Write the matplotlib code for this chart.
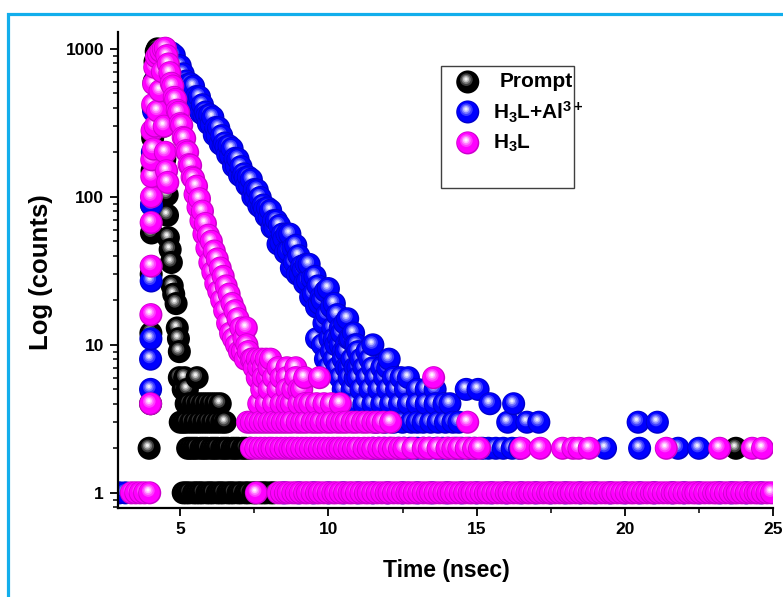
import numpy as np
import matplotlib
matplotlib.use("Agg")
import matplotlib.pyplot as plt
import matplotlib.colors as mcolors
from matplotlib.collections import PathCollection
from matplotlib.path import Path
from matplotlib.patches import Rectangle
from matplotlib.ticker import LogLocator, NullFormatter, MultipleLocator
from matplotlib.transforms import IdentityTransform

plt.rcParams['font.family'] = ['Liberation Sans', 'DejaVu Sans']
plt.rcParams['font.weight'] = 'bold'
plt.rcParams['mathtext.fontset'] = 'custom'
plt.rcParams['mathtext.rm'] = 'Liberation Sans:bold'
plt.rcParams['mathtext.it'] = 'Liberation Sans:bold'
plt.rcParams['mathtext.bf'] = 'Liberation Sans:bold'

# ---- decay data: time (ns) / counts ----
# Prompt (IRF)
prompt_t = [4.00, 4.01, 4.02, 4.03, 4.04, 4.05, 4.07, 4.09, 4.12, 4.15, 4.19, 4.23,
            4.28, 4.33, 4.38, 4.43, 4.48, 4.52, 4.56, 4.57, 4.60, 4.66, 4.70, 4.73,
            4.78, 4.86, 4.90, 4.94, 4.97]
prompt_c = [4, 12, 30, 57, 88, 150, 250, 400, 600, 820, 960, 1000,
            950, 760, 500, 300, 180, 130, 103, 75, 53, 44, 36, 25,
            22, 19, 13, 11, 9]
# low-count channels, grouped by count value
prompt_low = {
    6: [4.97, 5.15, 5.57],
    5: [5.10, 5.24],
    4: [5.20, 5.30, 5.45, 5.60, 5.75, 5.90, 6.05, 6.20, 6.35],
    3: [5.00, 5.10, 5.20, 5.35, 5.50, 5.65, 5.80, 5.95, 6.10, 6.25, 6.40, 6.52],
    2: [3.95, 5.25, 5.35, 5.45, 5.55, 5.70, 5.80, 5.90, 6.05, 6.15, 6.25, 6.40,
        6.50, 6.60, 6.75, 6.85, 6.95, 7.10, 7.20, 7.35, 23.75],
    1: [5.10, 5.20, 5.30, 5.45, 5.55, 5.65, 5.75, 5.90, 6.00, 6.10, 6.25, 6.35,
        6.45, 6.60, 6.70, 6.80, 6.95, 7.05, 7.20, 7.30, 7.45, 7.55, 7.70, 7.80,
        7.90, 8.05, 8.15],
}

# H3L + Al3+
al_t = [4.00, 4.00, 4.01, 4.02, 4.03, 4.06, 4.10, 4.15, 4.22, 4.30, 4.40, 4.50,
        4.60, 4.65, 4.70, 4.75, 4.80, 4.85, 4.90, 4.95, 5.00, 5.05, 5.10, 5.15,
        5.20, 5.25, 5.30, 5.35, 5.40, 5.45, 5.50, 5.55, 5.60, 5.65, 5.70, 5.75,
        5.80, 5.85, 5.90, 5.95, 6.00, 6.05, 6.10, 6.15, 6.20, 6.25, 6.30, 6.35,
        6.40, 6.45, 6.50, 6.55, 6.60, 6.65, 6.70, 6.75, 6.80, 6.85, 6.90, 6.95,
        7.00, 7.05, 7.10, 7.15, 7.20, 7.25, 7.30, 7.35, 7.40, 7.45, 7.50, 7.55,
        7.60, 7.65, 7.70, 7.75, 7.80, 7.85, 7.90, 7.95, 8.00, 8.05, 8.10, 8.15,
        8.20, 8.25, 8.30, 8.35, 8.40, 8.45, 8.50, 8.55, 8.60, 8.65, 8.70, 8.75,
        8.80, 8.85, 8.90, 8.95, 9.00, 9.05, 9.10, 9.15, 9.20, 9.25, 9.30, 9.35,
        9.40, 9.45, 9.50, 9.55, 9.60, 9.65, 9.70, 9.75, 9.80, 9.85, 9.90, 9.95,
        10.00, 10.05, 10.10, 10.15, 10.20, 10.25, 10.30, 10.35, 10.40, 10.45,
        10.50, 10.55, 10.60, 10.65, 10.70, 10.75, 10.80, 10.85, 10.90, 10.95, 11.00]
al_c = [5, 8, 11, 27, 88, 200, 380, 600, 800, 930, 980, 1000,
        928, 823, 940, 806, 904, 686, 773, 680, 766, 599, 678, 580,
        606, 573, 508, 580, 497, 558, 424, 476, 420, 473, 369, 419,
        358, 374, 353, 313, 358, 307, 345, 262, 294, 259, 292, 228,
        259, 221, 231, 218, 193, 221, 189, 212, 161, 182, 160, 180,
        140, 160, 136, 143, 135, 120, 136, 117, 131, 100, 112, 99,
        111, 87, 99, 84, 88, 83, 74, 84, 72, 81, 62, 69,
        61, 69, 48, 64, 49, 56, 52, 42, 56, 43, 56, 33,
        45, 36, 47, 30, 40, 30, 34, 32, 26, 35, 27, 35,
        21, 28, 22, 29, 18, 25, 19, 21, 20, 14, 23, 16,
        24, 11, 18, 13, 19, 10, 16, 11, 13, 12,
        9, 14, 10, 15, 7, 11, 8, 12, 6, 10, 7]
al_low = {
    11: [9.6, 10.2, 10.7],
    10: [9.8, 10.4, 10.9, 11.5],
    9: [10.1, 10.6, 11.0, 11.3],
    8: [9.9, 10.2, 10.5, 10.8, 11.1, 11.4, 12.05],
    7: [10.0, 10.3, 10.6, 10.9, 11.2, 11.5, 11.8, 12.0],
    6: [10.4, 10.7, 11.0, 11.3, 11.6, 11.9, 12.2, 12.45, 12.7],
    5: [10.5, 10.8, 11.1, 11.4, 11.7, 12.0, 12.3, 12.6, 13.0, 13.3, 13.6, 14.65, 15.05],
    4: [10.9, 11.2, 11.5, 11.8, 12.1, 12.4, 12.7, 13.0, 13.3, 13.6, 13.9, 14.1,
        15.45, 16.25],
    3: [11.6, 11.9, 12.2, 12.5, 12.8, 13.0, 13.2, 13.45, 13.7, 13.95, 14.2, 14.4,
        16.05, 16.7, 17.1, 20.45, 21.1],
    2: [11.5, 11.7, 11.9, 12.1, 12.35, 12.55, 12.75, 13.0, 13.2, 13.4, 13.65, 13.85,
        14.05, 14.3, 14.5, 14.75, 14.95, 15.2, 15.4, 15.65, 15.9, 16.2, 16.45,
        19.35, 20.5, 21.8, 22.5],
    1: [2.95, 3.15, 8.5, 9.0, 9.5, 10.0, 10.5, 11.0, 11.5, 12.0, 12.5, 13.0, 13.5,
        14.0, 14.5, 15.0, 15.5, 16.0, 16.5, 17.0, 17.5, 18.0, 18.5, 19.0, 19.5,
        20.0, 20.5, 21.0, 21.6, 22.0, 22.5, 23.2, 23.6, 24.1, 24.6],
}

# H3L
h3l_t = [4.00, 4.01, 4.02, 4.02, 4.03, 4.04, 4.04, 4.05, 4.07, 4.10, 4.10, 4.14,
         4.16, 4.20, 4.24, 4.27, 4.32, 4.35, 4.40, 4.43, 4.46, 4.50, 4.50, 4.54,
         4.55, 4.58,
         4.60, 4.65, 4.70, 4.75, 4.80, 4.85, 4.90, 4.95, 5.00, 5.05, 5.10,
         5.15, 5.20, 5.25, 5.30, 5.35, 5.40, 5.45, 5.50, 5.55, 5.60, 5.65, 5.70,
         5.75, 5.80, 5.85, 5.90, 5.95, 6.00, 6.05, 6.10, 6.15, 6.20, 6.25, 6.30,
         6.35, 6.40, 6.45, 6.50, 6.55, 6.60, 6.65, 6.70, 6.75, 6.80, 6.85, 6.90,
         6.95, 7.00, 7.05, 7.10, 7.15, 7.20, 7.23, 7.25, 7.30, 7.40]
h3l_c = [4, 16, 34, 67, 100, 137, 178, 280, 420, 580, 210, 750,
         300, 880, 380, 920, 520, 960, 700, 1000, 300, 1010, 200, 150,
         900, 125,
         790, 690, 585, 560, 470, 455, 385, 372, 312, 305, 252,
         248, 205, 200, 165, 163, 136, 133, 104, 118, 85, 97, 69,
         80, 56, 66, 45, 55, 36, 50, 31, 43, 26, 38, 23,
         33, 20, 29, 17, 25, 14, 22, 12, 19, 11, 17, 10,
         15, 9, 13, 9, 11, 8, 13, 10, 9, 8]
h3l_low = {
    8: [7.45, 7.6, 7.75, 7.9, 8.05],
    7: [7.5, 7.65, 7.8, 8.0, 8.3, 8.6, 8.9],
    6: [7.6, 7.8, 7.95, 8.15, 8.4, 8.6, 8.9, 9.2, 9.7, 13.55],
    5: [7.75, 8.0, 8.3, 8.6, 8.8, 9.0, 9.1],
    4: [7.65, 7.9, 8.15, 8.4, 8.6, 8.75, 9.0, 9.2, 9.37, 9.6, 9.85, 10.1, 10.4],
    3: [7.27, 7.4, 7.55, 7.7, 7.85, 8.0, 8.15, 8.3, 8.45, 8.6, 8.75, 8.95, 9.1,
        9.25, 9.45, 9.6, 9.75, 9.95, 10.1, 10.3, 10.45, 10.6, 10.8, 10.95, 11.15,
        11.3, 11.5, 11.65, 11.85, 12.1, 14.7],
    2: [7.4, 7.55, 7.7, 7.85, 8.0, 8.1, 8.25, 8.4, 8.55, 8.7, 8.8, 8.95, 9.1,
        9.25, 9.4, 9.55, 9.7, 9.85, 10.0, 10.15, 10.3, 10.4, 10.55, 10.7, 10.85,
        11.0, 11.2, 11.35, 11.5, 11.7, 11.85, 12.05, 12.2, 12.4, 12.55, 12.85,
        13.2, 13.4, 13.7, 14.0, 14.2, 14.4, 14.65, 14.9, 15.1, 16.5, 17.15, 17.9,
        18.25, 18.45, 18.8, 21.4, 23.2, 24.3, 24.65],
    1: [3.35, 3.5, 3.65, 3.8, 3.97, 7.57,
        8.30, 8.42, 8.55, 8.65, 8.80, 8.92, 9.05, 9.20, 9.30, 9.45, 9.60, 9.70,
        9.85, 10.00, 10.15, 10.25, 10.40, 10.55, 10.70, 10.80, 10.95, 11.10,
        11.25, 11.35, 11.50, 11.65, 11.80, 11.95, 12.05, 12.20, 12.35, 12.50,
        12.65, 12.75, 12.90, 13.05, 13.20, 13.35, 13.45, 13.60, 13.75, 13.90,
        14.05, 14.15, 14.30, 14.45, 14.60, 14.75, 14.85, 15.00, 15.15, 15.30,
        15.40, 15.55, 15.70, 15.85, 16.00, 16.10, 16.25, 16.40, 16.55, 16.70,
        16.80, 16.95, 17.10, 17.25, 17.40, 17.50, 17.65, 17.80, 17.95, 18.10,
        18.20, 18.35, 18.50, 18.65, 18.80, 18.90, 19.05, 19.20, 19.35, 19.50,
        19.60, 19.75, 19.90, 20.05, 20.20, 20.30, 20.45, 20.60, 20.75, 20.90,
        21.00, 21.15, 21.30, 21.45, 21.60, 21.70, 21.85, 22.00, 22.15, 22.30,
        22.40, 22.55, 22.70, 22.85, 23.00, 23.10, 23.25, 23.40, 23.55, 23.70,
        23.80, 23.95, 24.10, 24.25, 24.40, 24.50, 24.65, 24.80, 24.95],
}

series_labels = ['Prompt', r'H$_3$L+Al$^{3+}$', r'H$_3$L']
series_colors = ['#000000', '#0000ff', '#ff00ff']
highlight_colors = ['#f2f2f2', '#eeeeff', '#fff2ff']

SPHERE_R = 8.3  # marker radius, points


def gather(t, c, low):
    tt = list(t)
    cc = list(c)
    for level, times in low.items():
        tt += times
        cc += [level] * len(times)
    tt = np.array(tt, dtype=float)
    cc = np.array(cc, dtype=float)
    order = np.argsort(tt, kind='stable')
    return tt[order], cc[order]


def sphere_layers(color, light):
    base = np.array(mcolors.to_rgb(color))
    hi = np.array(mcolors.to_rgb(light))
    # radius, dx, dy (fractions of R), mix towards highlight (<0 darkens)
    layers = [(1.00, 0.00, 0.00, -0.2),
              (0.90, -0.03, 0.03, 0.0),
              (0.55, -0.12, 0.20, 0.25),
              (0.40, -0.14, 0.22, 0.50),
              (0.27, -0.15, 0.24, 0.78),
              (0.14, -0.15, 0.25, 1.0)]
    paths, cols = [], []
    for r, dx, dy, m in layers:
        paths.append(Path.circle((dx * SPHERE_R, dy * SPHERE_R), r * SPHERE_R))
        if m < 0:
            cols.append(base * (1 + m))
        else:
            cols.append(base + (hi - base) * m)
    return paths, np.array(cols)


def draw_spheres(ax, x, y, color, light, transform=None, zorder=2):
    paths, cols = sphere_layers(color, light)
    n = len(paths)
    xy = np.column_stack([x, y])
    coll = PathCollection(paths, sizes=[1.0],
                          offsets=np.repeat(xy, n, axis=0),
                          offset_transform=transform if transform is not None else ax.transData,
                          facecolors=np.tile(cols, (len(xy), 1)),
                          edgecolors='none', linewidths=0, zorder=zorder)
    coll.set_transform(IdentityTransform())
    ax.add_collection(coll, autolim=False)
    return coll


fig = plt.figure(figsize=(7.83, 5.97), dpi=100)
ax = fig.add_axes([0.1507, 0.1491, 0.8365, 0.7973])
ax.set_yscale('log')
ax.set_xlim(2.9, 25)
ax.set_ylim(0.79, 1300)

data = [gather(prompt_t, prompt_c, prompt_low),
        gather(al_t, al_c, al_low),
        gather(h3l_t, h3l_c, h3l_low)]
for (t, c), col, hl in zip(data, series_colors, highlight_colors):
    draw_spheres(ax, t, c, col, hl)

# axes styling
for side in ['top', 'right']:
    ax.spines[side].set_visible(False)
for side in ['left', 'bottom']:
    ax.spines[side].set_linewidth(1.6)

ax.set_xticks([5, 10, 15, 20, 25])
ax.xaxis.set_minor_locator(MultipleLocator(2.5))
ax.set_yticks([1, 10, 100, 1000])
ax.set_yticklabels(['1', '10', '100', '1000'])
ax.yaxis.set_minor_locator(LogLocator(base=10, subs=np.arange(2, 10)))
ax.yaxis.set_minor_formatter(NullFormatter())
ax.tick_params(which='major', direction='out', length=6, width=1.3, labelsize=12.5, pad=4)
ax.tick_params(which='minor', direction='out', length=3.5, width=1.1)

ax.set_xlabel('Time (nsec)', fontsize=16.5, fontweight='bold')
ax.xaxis.set_label_coords(0.502, -0.108)
ax.set_ylabel('Log (counts)', fontsize=18.5, fontweight='bold')
ax.yaxis.set_label_coords(-0.1, 0.496)

# legend box
ax.add_patch(Rectangle((0.4927, 0.673), 0.2033, 0.256, transform=ax.transAxes,
                       facecolor='white', edgecolor='#404040', lw=1.0, zorder=5))
leg_y = [0.895, 0.832, 0.767]
leg_tx = [0.582, 0.573, 0.573]
for lab, col, hl, yy, tx in zip(series_labels, series_colors, highlight_colors, leg_y, leg_tx):
    draw_spheres(ax, [0.534], [yy], col, hl, transform=ax.transAxes, zorder=6)
    ax.text(tx, yy, lab, transform=ax.transAxes, fontsize=15, fontweight='bold',
            va='center', ha='left', zorder=7)

# cyan frame around the figure
fig.add_artist(Rectangle((8.3 / 783, -0.05), 1.1, (597 - 14.3) / 597 + 0.05,
                         transform=fig.transFigure, fill=False,
                         edgecolor='#12AEEC', lw=2.3, clip_on=False))

fig.savefig('out.png', dpi=100)
